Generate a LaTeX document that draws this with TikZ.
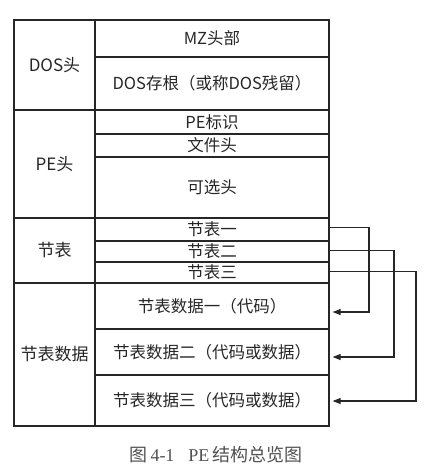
\documentclass[tikz,border=0pt]{standalone}
\usepackage{fontspec}
\newfontfamily\cjk{Noto Sans CJK SC}
\newfontfamily\capserif{Liberation Serif}
\usetikzlibrary{arrows.meta}
\definecolor{ink}{HTML}{262626}
\definecolor{captionink}{HTML}{505050}
\begin{document}
\begin{tikzpicture}[x=1pt,y=-1pt,
  cell/.style={draw=ink, line width=1.3pt, inner sep=0pt, text=ink,
    font=\cjk\fontsize{16.5}{18}\selectfont},
  rcell/.style={cell, minimum width=234pt},
  lcell/.style={cell, minimum width=81pt, font=\cjk\fontsize{17}{19}\selectfont},
  link/.style={draw=ink, line width=1.1pt, -{Triangle[length=8pt,width=6pt]}, shorten >=3pt}]
\useasboundingbox (0,0) rectangle (427,476);
% left column
\node[lcell, minimum height=90pt]  (doshdr)  at (54.5,65)    {DOS头};
\node[lcell, minimum height=108pt] (pehdr)   at (54.5,164)   {PE头};
\node[lcell, minimum height=65pt]  (sectab)  at (54.5,250.5) {节表};
\node[lcell, minimum height=143pt] (secdata) at (54.5,354.5) {节表数据};
% right column
\node[rcell, minimum height=37pt] (mz)      at (212,38.5)  {MZ头部};
\node[rcell, minimum height=53pt] (stub)    at (212,83.5)  {DOS存根（或称DOS残留）};
\node[rcell, minimum height=24pt] (pesig)   at (212,122)   {PE标识};
\node[rcell, minimum height=23pt] (filehdr) at (212,145.5) {文件头};
\node[rcell, minimum height=61pt] (opthdr)  at (212,187.5) {可选头};
\node[rcell, minimum height=23pt] (sec1)    at (212,229.5) {节表一};
\node[rcell, minimum height=21pt] (sec2)    at (212,251.5) {节表二};
\node[rcell, minimum height=21pt] (sec3)    at (212,272.5) {节表三};
\node[rcell, minimum height=46pt] (data1)   at (212,306)   {节表数据一（代码）};
\node[rcell, minimum height=46pt] (data2)   at (212,352)   {节表数据二（代码或数据）};
\node[rcell, minimum height=51pt] (data3)   at (212,400.5) {节表数据三（代码或数据）};
% connector columns
\coordinate (v1) at (369,0);
\coordinate (v2) at (394,0);
\coordinate (v3) at (416,0);
\coordinate (s1) at ([yshift=2pt]sec1.east);
\coordinate (s2) at ([yshift=1pt]sec2.east);
\coordinate (s3) at ([yshift=1pt]sec3.east);
\coordinate (d1) at ([yshift=-6pt]data1.east);
\coordinate (d2) at ([yshift=-5pt]data2.east);
\coordinate (d3) at ([yshift=-0.5pt]data3.east);
\draw[link] (s1) -- (s1 -| v1) -- (d1 -| v1) -- (d1);
\draw[link] (s2) -- (s2 -| v2) -- (d2 -| v2) -- (d2);
\draw[link] (s3) -- (s3 -| v3) -- (d3 -| v3) -- (d3);
% caption
\node[text=captionink, inner sep=0pt] (caption) at (216,455)
  {\capserif\fontsize{18}{20}\selectfont{\cjk 图}\,4-1\hspace{14pt}PE\,{\cjk 结构总览图}};
\end{tikzpicture}
\end{document}
